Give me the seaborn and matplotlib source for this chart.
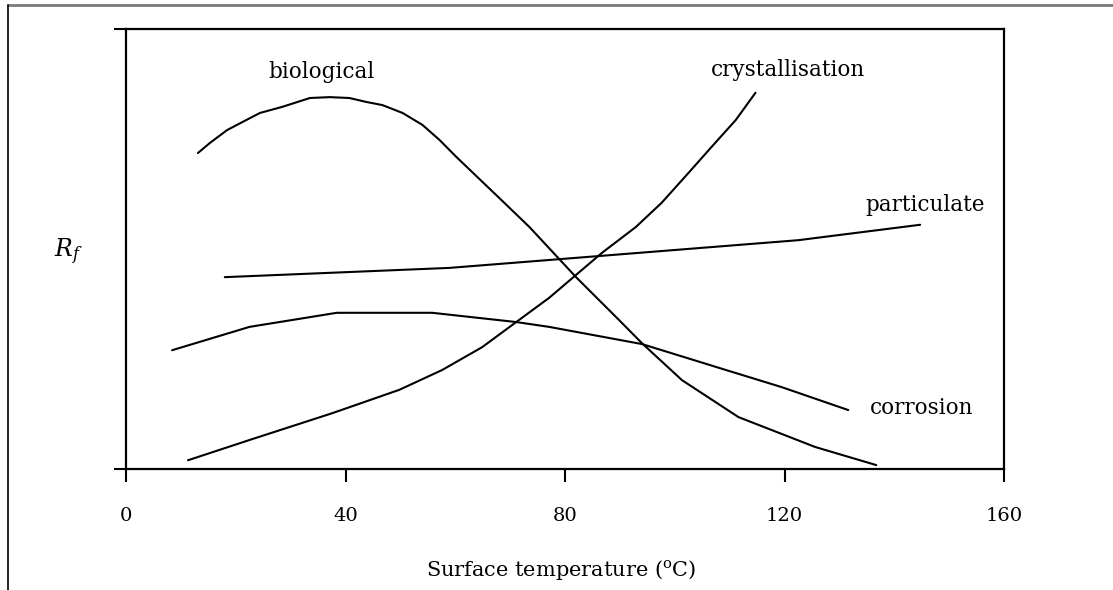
import matplotlib
matplotlib.use("Agg")
import matplotlib.pyplot as plt
import seaborn as sns
import pandas as pd
from matplotlib.lines import Line2D

# ---- data (y is in arbitrary units 0..1) ----
bio_x = [13.1, 15.3, 18.4, 21.3, 24.4, 28.5, 33.5, 37.1, 40.7, 43.8, 46.7, 50.4, 54.0, 57.1, 60.2,
         68.0, 73.5, 82.0, 89.8, 94.0, 101.3, 111.6, 125.6, 136.7]
bio_y = [0.718, 0.741, 0.770, 0.789, 0.809, 0.823, 0.843, 0.845, 0.843, 0.834, 0.827, 0.809, 0.782, 0.748, 0.709,
         0.616, 0.550, 0.436, 0.339, 0.286, 0.202, 0.118, 0.050, 0.009]

cry_x = [11.3, 22.5, 37.6, 49.8, 57.6, 64.9, 71.1, 77.1, 86.7, 92.9, 97.6, 102.5, 106.7, 111.1, 114.7]
cry_y = [0.020, 0.066, 0.127, 0.180, 0.225, 0.277, 0.334, 0.389, 0.491, 0.550, 0.605, 0.673, 0.732, 0.793, 0.855]

par_x = [18.0, 58.9, 77.1, 122.5, 144.7]
par_y = [0.436, 0.457, 0.475, 0.520, 0.555]

cor_x = [8.4, 22.5, 38.4, 55.8, 71.1, 77.1, 94.0, 107.5, 119.5, 131.6]
cor_y = [0.270, 0.323, 0.355, 0.355, 0.334, 0.323, 0.284, 0.232, 0.186, 0.134]

series_names = ["biological", "crystallisation", "particulate", "corrosion"]
x_ticks = [0, 40, 80, 120, 160]
x_label = "Surface temperature ($^{\\mathrm{o}}$C)"
y_label = "$R_f$"

sns.set_theme(style="white")
plt.rcParams["font.family"] = ["DejaVu Serif"]
plt.rcParams["mathtext.fontset"] = "dejavuserif"
plt.rcParams["text.color"] = "black"
plt.rcParams["xtick.color"] = "black"
plt.rcParams["ytick.color"] = "black"

fig = plt.figure(figsize=(11.13, 5.9), dpi=100)
ax = fig.add_axes([0.1132, 0.205, 0.789, 0.746])

frames = []
for name, xs, ys in zip(series_names, [bio_x, cry_x, par_x, cor_x], [bio_y, cry_y, par_y, cor_y]):
    frames.append(pd.DataFrame({"x": xs, "y": ys, "s": name}))
df = pd.concat(frames, ignore_index=True)

for name in series_names:
    sub = df[df["s"] == name]
    sns.lineplot(data=sub, x="x", y="y", ax=ax, color="black", lw=1.5, sort=False,
                 estimator=None, legend=False)

ax.set_xlim(0, 160)
ax.set_ylim(0, 1)
ax.set_xticks(x_ticks)
ax.set_xticklabels([str(t) for t in x_ticks], fontsize=14, color="black")
ax.set_yticks([0, 1])
ax.set_yticklabels([])
ax.tick_params(axis="both", direction="out", length=9, width=1.5, color="black",
               labelcolor="black", bottom=True, left=True, pad=18)
for sp in ax.spines.values():
    sp.set_visible(True)
    sp.set_color("black")
    sp.set_linewidth(1.6)
ax.set_xlabel("")
ax.set_ylabel("")

# curve labels
lab_kw = dict(fontsize=15.5, color="black")
ax.text(35.6, 0.902, "biological", ha="center", va="center", **lab_kw)
ax.text(120.7, 0.907, "crystallisation", ha="center", va="center", **lab_kw)
ax.text(134.7, 0.60, "particulate", ha="left", va="center", **lab_kw)
ax.text(135.5, 0.139, "corrosion", ha="left", va="center", **lab_kw)

# axis titles
fig.text(561 / 1113, 1 - 570 / 590, x_label, ha="center", va="center", fontsize=15, color="black")
fig.text(68 / 1113, 1 - 252 / 590, y_label, ha="center", va="center", fontsize=17, color="black")

# outer frame lines
fig.add_artist(Line2D([8 / 1113, 1.0], [1 - 5 / 590, 1 - 5 / 590], transform=fig.transFigure,
                      color="#7a7a7a", lw=2))
fig.add_artist(Line2D([8 / 1113, 8 / 1113], [0, 1 - 5 / 590], transform=fig.transFigure,
                      color="black", lw=1.2))

fig.savefig("out.png", dpi=100, facecolor="white")
